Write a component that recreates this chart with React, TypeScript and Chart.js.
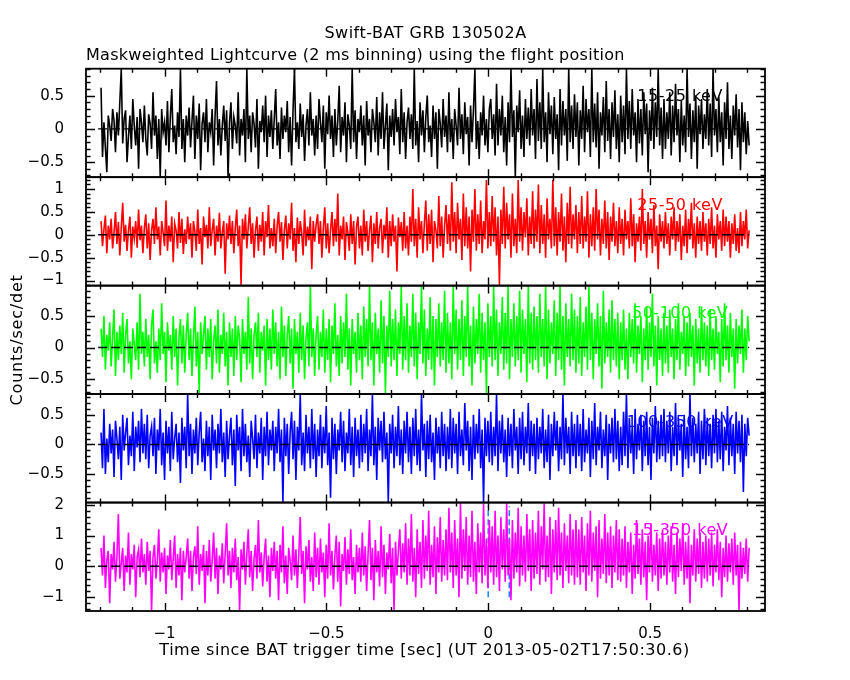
import React, { useEffect, useRef } from "react";
import { Chart, registerables } from "chart.js";

Chart.register(...registerables);

// ---------- texts ----------
const titleText = "Swift-BAT GRB 130502A";
const subtitleText = "Maskweighted Lightcurve (2 ms binning) using the flight position";
const xTitleText = "Time since BAT trigger time [sec] (UT 2013-05-02T17:50:30.6)";
const yTitleText = "Counts/sec/det";
const bandLabels = ["15-25 keV", "25-50 keV", "50-100 keV", "100-350 keV", "15-350 keV"];
const bandColors = ["#000000", "#ff0000", "#00ff00", "#0000ff", "#ff00ff"];

// ---------- axes ----------
const xRange = [-1.2425, 0.855];
const xMajorTicks = [-1, -0.5, 0, 0.5];
const xMinorStep = 0.1;
const yRanges = [
  [-0.725, 0.905],
  [-1.11, 1.26],
  [-0.736, 0.98],
  [-0.98, 0.85],
  [-1.45, 2.07],
];
const yMajorTicks = [
  [-0.5, 0, 0.5],
  [-1, -0.5, 0, 0.5, 1],
  [-0.5, 0, 0.5],
  [-0.5, 0, 0.5],
  [-1, 0, 1, 2],
];
const yMinorSteps = [0.1, 0.1, 0.1, 0.1, 0.2];

// ---------- time grid of the light curve ----------
const dataStart = -1.196;
const dataEnd = 0.806;
const zeroLineSpan = [-1.205, 0.806];
const markerTimes = [0, 0.065];
const markerYSpan = [-1.0, 1.95];

// ---------- light curves (counts/sec/det) ----------
const band15_25 = [
  .62,-.42,.1,-.28,-.65,.2,.05,-.18,.3,.12,-.35,.25,-.1,.4,.9,-.22,.15,.28,-.5,-.12,.2,-.3,.45,.05,-.25,.18,-.6,.3,.1,-.2,
  .35,-.15,-.4,.22,.08,-.3,.55,-.1,.2,-.45,.15,-.72,.3,-.05,.1,-.25,.42,-.35,.18,.6,-.2,.05,-.38,.25,-.12,.9,-.3,.15,-.5,.2,
  -.1,.32,-.28,.12,.5,-.45,.2,-.15,.38,-.62,.08,.25,-.2,.45,-.35,.1,-.05,.3,-.55,.2,.72,-.25,.15,-.4,.05,.35,-.18,.28,-.72,.1,
  .4,-.3,.18,.05,-.22,.55,-.4,.15,-.1,.3,-.5,.9,-.15,.2,-.35,.25,.08,-.28,.45,-.6,.12,-.05,.35,-.2,.5,-.42,.2,-.12,.28,-.3,
  .15,.6,-.25,.1,-.45,.32,-.15,.2,-.05,.42,-.35,.18,-.55,.28,.9,-.2,.1,-.3,.38,-.12,.22,-.48,.05,.3,-.25,.55,-.1,.15,-.4,.2,
  -.3,.45,.1,-.2,.35,-.6,.25,-.08,.5,-.15,.2,-.42,.3,-.25,.12,.65,-.35,.18,-.1,.4,-.5,.22,.05,-.3,.9,-.2,.28,-.45,.15,-.05,
  .35,-.25,.2,-.55,.42,-.1,.15,-.35,.3,.1,-.2,.48,-.4,.25,-.15,.55,-.3,.05,.38,-.62,.2,-.12,.3,-.25,.45,-.05,.18,-.38,.6,-.2,
  .25,-.45,.1,.32,-.15,.22,-.3,.9,-.25,.12,-.5,.4,-.1,.28,-.35,.18,.5,-.2,.05,-.42,.35,-.15,.25,-.6,.3,.08,-.28,.45,-.12,.2,
  -.35,.55,-.2,.15,-.45,.3,.05,-.25,.62,-.15,.22,-.38,.4,-.08,.18,-.55,.35,-.2,.28,.9,-.3,.12,-.45,.25,-.1,.5,-.25,.15,-.35,.3,
  .45,-.15,.22,-.4,.68,-.25,.3,-.1,.5,-.35,.18,-.55,.4,-.2,.9,-.12,.28,-.72,.35,-.05,.58,-.3,.2,-.42,.45,-.15,.32,-.25,.6,-.1,
  .3,-.45,.75,-.18,.4,-.3,.9,-.2,.25,-.5,.55,-.08,.35,-.38,.48,-.15,.22,-.62,.6,-.25,.42,-.1,.3,-.48,.9,-.2,.35,-.3,.52,-.12,
  .4,-.55,.28,-.15,.65,-.35,.45,-.05,.3,-.42,.9,-.2,.38,-.28,.55,-.6,.25,-.1,.48,-.35,.72,-.18,.3,-.45,.4,-.12,.58,-.3,.22,-.5,
  .5,-.2,.35,-.38,.9,-.15,.42,-.3,.6,-.1,.25,-.5,.45,-.22,.3,-.4,.55,-.08,.38,-.65,.28,-.18,.62,-.3,.4,-.12,.9,-.25,.32,-.45,
  .45,-.3,.25,-.15,.55,-.4,.35,-.2,.68,-.1,.3,-.5,.42,-.25,.2,-.35,.9,-.12,.38,-.45,.28,-.2,.5,-.6,.35,-.08,.45,-.3,.22,-.15,
  .6,-.25,.38,-.42,.9,-.1,.3,-.35,.48,-.2,.25,-.55,.4,-.15,.7,-.3,.2,-.45,.35,-.1,.52,-.28,.3,-.62,.4,-.2,.25,-.38,.12,-.25,
];
const band25_50 = [
  .3,-.25,.12,.42,-.4,.2,-.1,.35,-.3,.05,.5,-.2,.28,-.45,.15,.7,-.15,.22,-.35,.1,.4,-.5,.18,-.08,.3,-.28,.55,-.12,.2,-.4,
  .15,.45,-.3,.25,-.55,.1,.35,-.2,.6,-.1,.18,-.45,.3,.05,-.25,.75,-.35,.2,-.15,.4,-.6,.25,.1,-.3,.5,-.18,.35,-.42,.12,-.2,
  .4,-.1,.25,-.5,.3,.08,-.35,.55,-.2,.15,-.65,.4,-.05,.22,-.3,.6,-.25,.1,.35,-.45,.2,-.15,.48,-.3,.05,.3,-.85,.25,-.1,.42,
  -.2,.3,-.4,.15,.55,-.25,.2,-1.1,.35,-.1,.45,-.3,.18,.6,-.2,.25,-.5,.1,.4,-.35,.22,-.15,.5,-.45,.3,-.05,.65,-.3,.15,-.25,
  .35,-.4,.2,.5,-.15,.28,-.55,.1,.42,-.3,.25,-.1,.7,-.35,.15,-.6,.38,-.2,.3,.05,-.45,.55,-.25,.18,-.12,.4,-.75,.3,-.15,.22,
  .45,-.2,.3,-.5,.15,.6,-.3,.25,-.4,.1,.5,-.25,.35,-.15,.9,-.45,.2,-.1,.4,-.55,.28,.05,-.35,.45,-.2,.3,-.65,.18,.4,-.3,
  .2,-.45,.55,-.15,.3,-.35,.1,.42,-.6,.25,-.2,.5,-.3,.15,.35,-.4,.22,-.1,.6,-.5,.3,-.25,.45,-.15,.2,-.8,.38,-.05,.28,-.35,
  .5,-.3,.2,-.45,.4,-.15,1.0,-.25,.35,-.5,.6,-.1,.3,-.4,.25,.75,-.35,.45,-.2,.55,-.6,.3,.1,-.3,.85,-.25,.4,-.5,.2,.65,
  -.2,.45,-.35,1.15,-.15,.5,-.4,.7,-.1,.35,-.55,.9,-.25,.6,-.3,.4,-.8,.55,-.15,1.0,-.35,.45,-.2,.75,-.4,.3,-.1,1.2,-.3,.5,
  -.25,.85,-.15,.6,-.45,.4,-1.1,.55,-.2,1.05,-.3,.7,-.1,.45,-.5,.9,-.25,.35,-.4,1.2,-.15,.6,-.35,.5,-.05,.8,-.45,.4,-.2,.95,
  -.3,.55,-.15,1.1,-.4,.65,-.2,.45,-.5,.8,-.1,.35,-.3,1.2,-.25,.6,-.45,.5,-.15,.9,-.35,.4,-.6,.7,-.2,1.05,-.3,.45,-.1,.65,
  -.4,.5,-.2,.85,-.3,.4,-.15,.95,-.5,.45,-.25,.6,-.35,1.0,-.1,.55,-.45,.35,-.2,.75,-.3,.5,-.55,.4,-.15,.7,-.25,.3,-.4,.6,
  -.2,.35,-.45,.55,-.1,.3,-.3,.8,-.25,.45,-.6,.25,-.15,.4,-.35,1.0,-.2,.3,-.5,.5,-.1,.35,-.4,.65,-.25,.2,-.75,.45,-.15,.3,
  -.3,.5,-.2,.25,-.45,.4,-.1,.6,-.35,.3,-.15,.45,-.55,.2,-.25,.55,-.4,.35,-.1,.7,-.3,.25,-.5,.4,-.2,.3,-.35,.5,-.15,.25,
  -.45,.35,-.2,.6,-.3,.2,-.5,.45,-.1,.3,-.35,.55,-.25,.4,-.15,.3,-.5,.25,-.2,.45,-.35,.15,-.4,.5,-.25,.3,-.1,.55,-.3,.1,
];
const band50_100 = [
  .3,-.15,.5,-.35,.2,-.05,.4,-.3,.15,.6,-.45,.25,-.2,.35,-.1,.55,-.4,.2,.45,-.25,.1,-.5,.3,.05,-.2,.4,-.35,.85,-.1,.25,
  -.3,.45,-.15,.2,-.5,.35,.6,-.25,.1,-.4,.3,-.2,.7,-.1,.25,-.55,.4,-.05,.2,-.35,.5,-.15,.3,-.6,.15,.45,-.25,.35,-.4,.2,
  .55,-.2,.3,-.45,.15,.65,-.3,.25,-.72,.4,-.1,.2,.5,-.35,.3,-.15,.45,-.5,.1,.35,-.25,.6,-.4,.2,-.1,.55,-.3,.25,-.6,.4,
  -.15,.3,-.45,.5,-.2,.35,.15,-.55,.45,-.1,.25,-.35,.8,-.25,.3,-.5,.2,.4,-.15,.55,-.4,.25,-.05,.35,-.6,.45,-.2,.3,-.35,.6,
  -.1,.4,-.3,.25,-.5,.65,-.15,.35,-.45,.2,.5,-.25,.3,-.65,.45,-.1,.25,-.4,.55,-.2,.35,-.5,.15,.4,-.3,.97,-.15,.3,-.45,.2,
  .5,-.35,.25,-.15,.6,-.4,.3,-.2,.45,-.55,.35,-.1,.7,-.3,.2,-.45,.5,-.25,.4,-.15,.85,-.35,.3,-.6,.45,-.1,.25,-.4,.55,-.2,
  .35,-.5,.65,-.15,.45,-.3,.97,-.2,.4,-.6,.55,-.1,.3,-.4,.75,-.25,.5,-.72,.35,-.15,.9,-.3,.45,-.2,.6,-.45,.4,-.1,.97,-.35,
  .5,-.2,.7,-.4,.35,-.15,.85,-.3,.55,-.5,.4,-.1,.97,-.25,.6,-.45,.3,-.2,.8,-.35,.5,-.6,.45,-.15,.7,-.3,.4,-.2,.9,-.4,
  .55,-.25,.4,-.5,.97,-.1,.6,-.35,.45,-.2,.75,-.45,.5,-.15,.97,-.3,.35,-.6,.65,-.25,.45,-.1,.85,-.4,.55,-.2,.4,-.72,.7,-.15,
  .5,-.3,.97,-.2,.6,-.45,.4,-.1,.8,-.35,.55,-.25,.97,-.5,.45,-.15,.7,-.3,.5,-.2,.9,-.4,.6,-.1,.45,-.55,.97,-.25,.55,-.35,
  .65,-.2,.5,-.4,.85,-.15,.45,-.3,.97,-.5,.6,-.25,.4,-.1,.75,-.45,.55,-.2,.97,-.35,.5,-.6,.7,-.15,.45,-.3,.85,-.2,.6,-.4,
  .5,-.25,.8,-.45,.4,-.15,.65,-.35,.97,-.2,.55,-.5,.45,-.1,.7,-.3,.5,-.65,.9,-.25,.4,-.15,.6,-.4,.75,-.2,.45,-.3,.55,-.5,
  .4,-.2,.6,-.35,.3,-.5,.55,-.15,.45,-.25,.7,-.4,.35,-.1,.5,-.55,.3,-.2,.65,-.35,.4,-.15,.85,-.3,.35,-.6,.5,-.2,.3,-.45,
  .55,-.25,.35,-.4,.6,-.15,.3,-.5,.45,-.2,.7,-.35,.25,-.1,.5,-.45,.4,-.3,.55,-.15,.35,-.6,.45,-.25,.3,-.4,.65,-.2,.4,-.3,
  .35,-.45,.6,-.2,.3,-.35,.5,-.1,.25,-.55,.45,-.3,.7,-.2,.35,-.4,.55,-.15,.3,-.65,.45,-.25,.35,-.1,.6,-.4,.3,-.2,.5,.1,
];
const band100_350 = [
  .2,-.4,.6,-.5,.1,-.3,.35,-.15,.25,-.55,.4,.1,-.25,.3,-.6,.5,-.1,.2,.45,-.35,.15,-.2,.55,-.45,.3,-.05,.4,-.3,.6,-.15,
  .35,-.25,.5,-.4,.15,.3,-.2,.45,-.5,.25,-.1,.6,-.35,.2,-.6,.4,-.15,.3,-.45,.55,-.25,.1,.35,-.3,.2,-.65,.45,-.1,.3,-.4,
  .85,-.2,.35,-.5,.25,-.15,.45,-.35,.2,.55,-.3,.1,-.45,.4,-.2,.3,-.6,.5,-.1,.25,-.4,.35,-.15,.6,-.3,.2,-.55,.4,-.25,.15,
  .45,-.35,.25,-.7,.5,-.1,.3,-.45,.6,-.2,.35,-.3,.15,-.55,.4,.1,-.25,.5,-.4,.2,-.15,.45,-.6,.3,-.2,.55,-.35,.25,-.1,.4,
  -.45,.3,-.15,.6,-.3,.25,-.97,.45,-.2,.35,-.5,.2,.55,-.25,.4,-.6,.3,-.1,.85,-.35,.2,-.45,.5,-.15,.3,-.4,.6,-.25,.35,-.55,
  .25,-.2,.5,-.4,.3,-.15,.65,-.35,.2,-.9,.45,-.25,.35,-.5,.25,-.1,.55,-.3,.4,-.45,.2,-.15,.6,-.35,.3,-.55,.45,-.2,.25,-.4,
  .5,-.3,.35,-.15,.6,-.45,.25,-.2,.85,-.35,.3,-.6,.45,-.1,.4,-.3,.55,-.25,.2,-.97,.35,-.15,.5,-.4,.3,-.2,.65,-.35,.25,-.5,
  .4,-.15,.55,-.3,.3,-.5,.45,-.2,.6,-.35,.25,-.45,.85,-.1,.35,-.55,.4,-.25,.5,-.3,.2,-.6,.45,-.15,.3,-.4,.55,-.2,.35,-.45,
  .3,-.25,.6,-.4,.45,-.15,.35,-.5,.55,-.2,.25,-.35,.7,-.1,.4,-.45,.3,-.6,.5,-.25,.35,-.15,.6,-.4,.25,-.97,.45,-.2,.4,-.3,
  .55,-.35,.3,-.2,.85,-.45,.4,-.15,.5,-.3,.25,-.55,.45,-.2,.35,-.4,.6,-.1,.3,-.5,.45,-.25,.55,-.35,.3,-.15,.7,-.45,.4,-.2,
  .35,-.5,.45,-.25,.3,-.15,.6,-.4,.25,-.3,.5,-.6,.35,-.2,.55,-.1,.4,-.45,.3,-.25,.85,-.35,.45,-.15,.3,-.5,.55,-.2,.35,-.4,
  .5,-.2,.35,-.45,.6,-.3,.25,-.15,.45,-.55,.4,-.25,.7,-.35,.3,-.1,.55,-.4,.25,-.2,.5,-.6,.35,-.15,.45,-.3,.6,-.25,.4,-.45,
  .3,-.35,.55,-.2,.85,-.4,.45,-.15,.3,-.5,.6,-.25,.35,-.1,.5,-.45,.4,-.2,.55,-.35,.3,-.6,.45,-.15,.65,-.3,.4,-.25,.5,-.2,
  .6,-.3,.4,-.15,.55,-.45,.3,-.2,.7,-.35,.45,-.1,.35,-.55,.5,-.25,.3,-.4,.85,-.2,.45,-.3,.35,-.15,.55,-.5,.4,-.25,.6,-.35,
  .45,-.2,.35,-.4,.5,-.15,.6,-.3,.4,-.25,.55,-.45,.3,-.1,.65,-.35,.45,-.2,.35,-.5,.55,-.15,.4,-.3,.5,-.8,.35,-.2,.45,.15,
];
const band15_350 = [
  .6,-.3,1.0,-.7,.2,.5,-1.2,.4,-.1,.8,-.5,.3,1.7,-.4,.1,.6,-.8,.35,-.2,1.1,-.6,.4,-.1,.7,-1.0,.3,.55,-.35,.9,-.2,
  .4,-.6,.8,-.15,.5,-1.44,.3,.7,-.4,.2,1.2,-.5,.45,-.2,.6,-.9,.35,-.1,.85,-.45,.25,1.0,-.7,.4,-.3,.6,-1.1,.5,-.2,.3,
  .9,-.4,.5,-.8,.3,.65,-.25,1.3,-.6,.4,-.15,.7,-1.2,.5,-.3,.85,-.5,.2,1.1,-.4,.6,-.9,.35,-.1,.75,-.55,.4,1.4,-.3,.5,
  -.7,.6,-.2,.9,-.45,.3,-1.44,.55,-.1,.8,-.6,.4,1.2,-.35,.5,-.8,.25,.7,-.4,1.5,-.2,.45,-.65,.3,.9,-.5,.35,-1.0,.6,-.15,
  .8,-.4,.5,-1.1,.7,-.2,1.3,-.55,.35,-.9,.6,.2,-.45,1.0,-.3,.55,-.7,.4,1.6,-.25,.5,-1.2,.65,-.1,.85,-.5,.3,-.8,1.1,-.35,
  .6,-.6,.9,-.2,.45,-1.0,.7,-.4,1.4,-.3,.5,-.75,.35,1.0,-.5,.8,-1.3,.4,-.15,.95,-.6,.55,-.25,1.2,-.45,.3,-.9,.7,-.2,.6,
  -.5,1.1,-.3,.65,-.8,.4,1.5,-.45,.6,-1.1,.85,-.2,.5,-.65,1.3,-.35,.7,-.9,.45,-.1,1.05,-.55,.6,-1.44,.8,-.3,.5,1.2,-.4,.75,
  -.2,1.4,-.6,.9,-.3,1.7,-.5,.6,-1.0,1.2,-.25,.8,-.7,1.5,-.4,1.0,-.15,1.8,-.6,.7,-.35,1.3,-.9,.95,-.2,1.6,-.5,.85,-.3,1.2,
  -.45,1.9,-.2,1.1,-.7,1.5,-.3,.9,-1.0,2.05,-.4,1.2,-.15,1.6,-.6,1.0,-.35,1.8,-.5,.8,-.9,1.4,-.2,1.1,-.55,2.05,-.3,.9,-.7,1.5,
  -.2,1.3,-.6,1.8,-.35,1.0,-.8,1.6,-.1,1.2,-.5,2.05,-.3,.9,-1.1,1.5,-.4,1.1,-.2,1.9,-.65,1.3,-.3,1.0,-.5,1.7,-.15,1.2,-.8,1.5,
  -.4,1.1,-.25,1.8,-.6,1.3,-.1,2.05,-.5,1.0,-.35,1.6,-.9,1.2,-.2,1.5,-.45,1.9,-.3,1.1,-.7,1.4,-.15,1.0,-.55,1.7,-.3,1.2,-.6,1.5,
  -.35,1.2,-.6,1.6,-.2,1.0,-.8,1.4,-.3,1.8,-.5,1.1,-.15,1.3,-1.0,1.5,-.4,.9,-.25,1.7,-.55,1.1,-.3,1.3,-.7,1.0,-.2,1.5,-.45,1.2,
  -.5,.9,-.3,1.3,-.7,.8,-.2,1.1,-.9,.7,-.4,1.5,-.25,.9,-.6,1.2,-.35,.8,-1.1,1.0,-.2,1.4,-.5,.7,-.3,1.1,-.8,.9,-.4,1.2,
  -.3,.8,-.6,1.0,-.2,1.3,-.5,.7,-.9,1.1,-.35,.9,-.15,1.4,-.6,.8,-.4,1.0,-1.2,.7,-.3,1.2,-.5,.9,-.25,1.1,-.7,.8,-.4,1.0,
  -.5,.9,-.3,1.1,-.65,.7,-.2,1.2,-.45,.8,-1.0,.6,-.35,1.0,-.5,.75,-.2,.9,-.6,1.1,-.3,.7,-1.44,.8,-.4,.6,-.25,.9,-.5,.6,
];
const bandSeries = [band15_25, band25_50, band50_100, band100_350, band15_350];

const FONT = "'DejaVu Sans', 'Liberation Sans', sans-serif";

function fmtTick(v: number): string {
  const r = Math.round(v * 1000) / 1000;
  return r < 0 ? "\u2212" + String(-r) : String(r);
}

function near(a: number, list: number[]) {
  return list.some((b) => Math.abs(a - b) < 1e-6);
}

const decorPlugin = {
  id: "decor",
  beforeDatasetDraw(chart: any, args: any) {
    const ys = args.meta.yScale;
    const { left, right } = chart.chartArea;
    const ctx = chart.ctx;
    ctx.save();
    ctx.beginPath();
    ctx.rect(left, ys.top, right - left, ys.bottom - ys.top);
    ctx.clip();
  },
  afterDatasetDraw(chart: any) {
    chart.ctx.restore();
  },
  afterDraw(chart: any) {
    const ctx = chart.ctx as any;
    const { left, right, top, bottom } = chart.chartArea;
    const xs = chart.scales.x;
    ctx.save();
    ctx.strokeStyle = "#000";
    bandLabels.forEach((lab, i) => {
      const ys = chart.scales["y" + i];
      const pt = ys.top;
      const pb = ys.bottom;
      ctx.lineWidth = 1.4;
      ctx.beginPath();
      // x ticks on top and bottom of each panel
      const first = Math.ceil((xRange[0] + 1e-9) / xMinorStep);
      const last = Math.floor((xRange[1] - 1e-9) / xMinorStep);
      for (let k = first; k <= last; k++) {
        const v = k * xMinorStep;
        const px = Math.round(xs.getPixelForValue(v)) + 0.5;
        const len = near(v, xMajorTicks) ? 8 : 4;
        ctx.moveTo(px, pt);
        ctx.lineTo(px, pt + len);
        ctx.moveTo(px, pb);
        ctx.lineTo(px, pb - len);
      }
      // y ticks on left and right
      const st = yMinorSteps[i];
      const [mn, mx] = yRanges[i];
      const f = Math.ceil((mn + 1e-9) / st);
      const l = Math.floor((mx - 1e-9) / st);
      for (let k = f; k <= l; k++) {
        const v = k * st;
        const py = Math.round(ys.getPixelForValue(v)) + 0.5;
        const len = near(v, yMajorTicks[i]) ? 9 : 4.5;
        ctx.moveTo(left, py);
        ctx.lineTo(left + len, py);
        ctx.moveTo(right, py);
        ctx.lineTo(right - len, py);
      }
      ctx.stroke();
      ctx.lineWidth = 1.8;
      ctx.strokeRect(left, pt, right - left, pb - pt);
      // band label
      ctx.fillStyle = bandColors[i];
      ctx.font = `16px ${FONT}`;
      ctx.letterSpacing = "0.5px";
      ctx.textAlign = "center";
      ctx.textBaseline = "alphabetic";
      ctx.fillText(lab, left + 0.875 * (right - left), pt + 0.3 * (pb - pt));
    });
    // titles
    ctx.fillStyle = "#000";
    ctx.font = `16px ${FONT}`;
    ctx.letterSpacing = "0.5px";
    ctx.textAlign = "center";
    ctx.textBaseline = "alphabetic";
    ctx.fillText(titleText, (left + right) / 2, 38);
    ctx.fillText(xTitleText, (left + right) / 2 - 1, 655);
    ctx.letterSpacing = "0.28px";
    ctx.textAlign = "left";
    ctx.fillText(subtitleText, left, 60);
    ctx.textAlign = "center";
    ctx.letterSpacing = "0.8px";
    ctx.translate(22, (top + bottom) / 2);
    ctx.rotate(-Math.PI / 2);
    ctx.fillText(yTitleText, 0, 0);
    ctx.restore();
  },
};

export default function App() {
  const ref = useRef<HTMLCanvasElement>(null);
  useEffect(() => {
    const canvas = ref.current;
    if (!canvas) return;
    const datasets: any[] = [];
    bandSeries.forEach((vals, i) => {
      const step = (dataEnd - dataStart) / (vals.length - 1);
      datasets.push({
        label: bandLabels[i] + " zero",
        data: zeroLineSpan.map((x) => ({ x, y: 0 })),
        yAxisID: "y" + i,
        borderColor: "#000000",
        borderWidth: 1.4,
        borderDash: [9, 4],
        pointRadius: 0,
        order: 0,
      });
      datasets.push({
        label: bandLabels[i],
        data: vals.map((v, k) => ({ x: dataStart + k * step, y: v })),
        yAxisID: "y" + i,
        borderColor: bandColors[i],
        borderWidth: 1.6,
        pointRadius: 0,
        tension: 0,
        order: 1,
      });
    });
    markerTimes.forEach((t) => {
      datasets.push({
        label: "marker " + t,
        data: markerYSpan.map((y) => ({ x: t, y })),
        yAxisID: "y4",
        borderColor: "#1e8cff",
        borderWidth: 1.6,
        borderDash: [6, 3],
        pointRadius: 0,
        order: 2,
      });
    });

    const tickFont = { family: FONT, size: 15 };
    const scales: any = {
      x: {
        type: "linear",
        position: "bottom",
        min: xRange[0],
        max: xRange[1],
        grid: { display: false },
        border: { display: false },
        afterBuildTicks: (s: any) => {
          s.ticks = xMajorTicks.map((v) => ({ value: v }));
        },
        afterFit: (s: any) => {
          s.height = 69;
        },
        ticks: {
          autoSkip: false,
          maxRotation: 0,
          padding: 6,
          color: "#000",
          font: tickFont,
          callback: (v: any) => fmtTick(Number(v)),
        },
      },
    };
    bandLabels.forEach((_, i) => {
      scales["y" + i] = {
        type: "linear",
        position: "left",
        stack: "bands",
        stackWeight: 1,
        weight: 5 - i,
        offset: false,
        min: yRanges[i][0],
        max: yRanges[i][1],
        grid: { display: false },
        border: { display: false },
        afterBuildTicks: (s: any) => {
          s.ticks = yMajorTicks[i].map((v) => ({ value: v }));
        },
        afterFit: (s: any) => {
          s.width = 86;
        },
        ticks: {
          autoSkip: false,
          padding: 14,
          color: "#000",
          font: tickFont,
          callback: (v: any) => fmtTick(Number(v)),
        },
      };
    });

    const chart = new Chart(canvas, {
      type: "line",
      data: { datasets },
      options: {
        animation: false,
        responsive: false,
        devicePixelRatio: 1,
        layout: { padding: { left: 0, right: 85, top: 68.7, bottom: 0 } },
        plugins: { legend: { display: false }, tooltip: { enabled: false }, title: { display: false } },
        elements: { line: { borderJoinStyle: "miter" } },
        scales,
      },
      plugins: [decorPlugin],
    });
    return () => chart.destroy();
  }, []);

  return (
    <div style={{ position: "absolute", left: 0, top: 0, width: 850, height: 680, background: "#fff" }}>
      <canvas ref={ref} width={850} height={680} style={{ width: 850, height: 680, display: "block" }} />
    </div>
  );
}
